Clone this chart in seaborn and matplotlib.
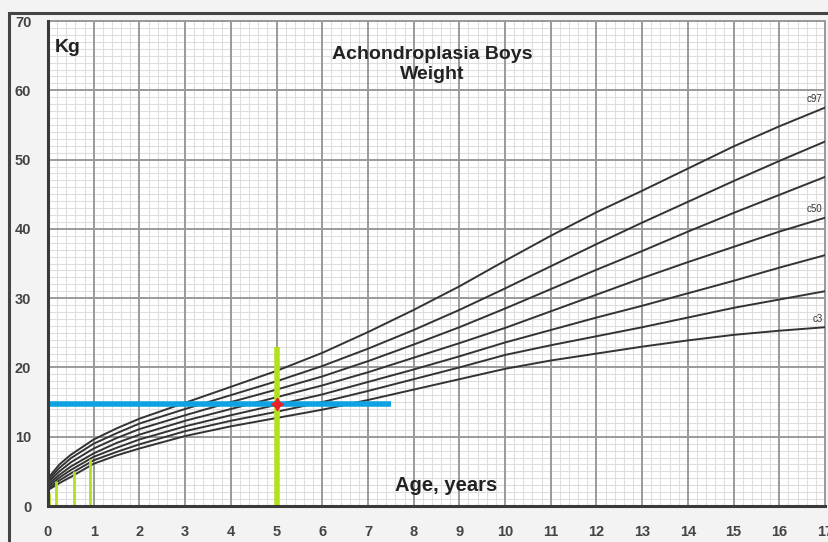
import pandas as pd
import numpy as np
from matplotlib import pyplot as plt
from matplotlib.patches import Rectangle
import seaborn as sns

# Datos de las curvas (edad en años, peso en kg)
edades = [0, 0.25, 0.5, 1, 1.5, 2, 3, 4, 5, 6, 7, 8, 9, 10, 11, 12, 13, 14, 15, 16, 17]
c97 = [4.0, 6.0, 7.4, 9.6, 11.2, 12.6, 14.9, 17.2, 19.5, 22.1, 25.1, 28.3, 31.7, 35.4, 39.0, 42.4, 45.5, 48.7, 51.9, 54.8, 57.5]
c90 = [3.7, 5.5, 6.9, 9.0, 10.5, 11.9, 14.0, 16.0, 18.0, 20.2, 22.7, 25.4, 28.3, 31.4, 34.6, 37.8, 40.9, 43.9, 46.9, 49.8, 52.6]
c75 = [3.4, 5.0, 6.3, 8.3, 9.8, 11.1, 13.1, 15.0, 16.8, 18.7, 20.9, 23.3, 25.8, 28.5, 31.3, 34.1, 36.8, 39.6, 42.3, 44.9, 47.5]
c50 = [3.1, 4.5, 5.7, 7.6, 9.1, 10.3, 12.3, 14.0, 15.7, 17.4, 19.3, 21.4, 23.5, 25.7, 28.1, 30.5, 32.9, 35.2, 37.4, 39.6, 41.6]
c25 = [2.8, 4.1, 5.2, 7.1, 8.4, 9.6, 11.5, 13.1, 14.6, 16.1, 17.9, 19.7, 21.6, 23.6, 25.4, 27.2, 28.9, 30.7, 32.5, 34.4, 36.2]
c10 = [2.5, 3.7, 4.7, 6.6, 7.8, 8.9, 10.8, 12.3, 13.6, 15.0, 16.6, 18.3, 20.0, 21.8, 23.2, 24.5, 25.8, 27.2, 28.6, 29.8, 31.0]
c3 = [2.3, 3.3, 4.2, 6.1, 7.3, 8.3, 10.1, 11.5, 12.7, 13.9, 15.3, 16.8, 18.3, 19.8, 21.0, 22.0, 23.0, 23.9, 24.7, 25.3, 25.8]

percentiles = {"c97": c97, "c90": c90, "c75": c75, "c50": c50, "c25": c25, "c10": c10, "c3": c3}
etiquetas = ["c97", "c50", "c3"]

# Marcas del paciente
verdes_x = [0.03, 0.17, 0.56, 0.92]
verdes_y = [1.9, 3.6, 5.1, 6.8]
edad_paciente = 5
altura_verde = 23
peso_paciente = 14.7
fin_azul = 7.5

df = pd.DataFrame([
    {"edad": e, "peso": p, "curva": nombre}
    for nombre, valores in percentiles.items()
    for e, p in zip(edades, valores)
])

sns.set_style("white")
plt.rcParams['font.family'] = ['Liberation Sans', 'DejaVu Sans']

fig = plt.figure(figsize=(8.29, 5.42), dpi=100, facecolor='#f3f3f3')
ax = fig.add_axes([48 / 829, 1 - 506 / 542, 777 / 829, 485 / 542])
ax.set_facecolor('white')

# Marco exterior
fig.patches.append(Rectangle((9 / 829, -0.05), 1.0, 1 - 13 / 542 + 0.05, transform=fig.transFigure,
                             fill=False, edgecolor='#444444', linewidth=2.2, zorder=0))

marcas_x = list(range(0, 18))
marcas_y = list(range(0, 71, 10))
ax.set_xlim(0, 17)
ax.set_ylim(0, 70)
ax.set_xticks(marcas_x)
ax.set_yticks(marcas_y)
# rejilla fina sin repetir las líneas principales
menores_x = [i / 5 for i in range(0, 86) if i % 5 != 0]
menores_y = [i for i in range(0, 71) if i % 10 != 0]
ax.set_xticks(menores_x, minor=True)
ax.set_yticks(menores_y, minor=True)
ax.grid(which='minor', color='#dedede', linewidth=0.8)
ax.grid(which='major', visible=False)
ax.set_axisbelow(True)

# líneas principales encima de la rejilla fina
ax.vlines(marcas_x, 0, 70, color='#9a9a9a', linewidth=1.4, zorder=1)
ax.hlines(marcas_y, 0, 17, color='#9a9a9a', linewidth=1.4, zorder=1)

sns.lineplot(data=df, x="edad", y="peso", hue="curva", palette=['#333333'] * 7,
             legend=False, linewidth=1.4, ax=ax, zorder=3)

# Líneas del paciente
ax.vlines(verdes_x, 0, verdes_y, color='#b3e21c', linewidth=2, zorder=4)
ax.vlines(edad_paciente, 0, altura_verde, color='#b3e21c', linewidth=4, zorder=4)
ax.hlines(peso_paciente, 0, fin_azul, color='#0ea2e3', linewidth=4, zorder=5)
ax.plot(edad_paciente, peso_paciente, marker=(4, 1, 0), color='#e8202a', markersize=9, zorder=6)

# Etiquetas de percentiles
for nombre in etiquetas:
    ax.text(16.95, percentiles[nombre][-1] + 1.2, nombre, ha='right', va='center',
            fontsize=7, color='#333333', zorder=6)

ax.text(0.15, 66.2, "Kg", fontsize=14, fontweight='bold', color='#222222', va='center')
ax.text(8.4, 63.7, "Achondroplasia Boys\nWeight", fontsize=14, fontweight='bold',
        color='#222222', ha='center', va='center', linespacing=1.2)
ax.text(8.7, 3.0, "Age, years", fontsize=14.5, fontweight='bold', color='#222222',
        ha='center', va='center')

ax.set_xlabel("")
ax.set_ylabel("")
ax.tick_params(axis='both', which='major', labelsize=10.5, labelcolor='#444444',
               length=4, width=1, color='#777777', direction='out', pad=8)
ax.tick_params(which='minor', length=0)
ax.tick_params(axis='x', pad=10)
for etiqueta in ax.get_xticklabels() + ax.get_yticklabels():
    etiqueta.set_fontweight('bold')

for lado in ['left', 'bottom']:
    ax.spines[lado].set_color('#3a3a3a')
    ax.spines[lado].set_linewidth(2.2)
    ax.spines[lado].set_zorder(7)
for lado in ['top', 'right']:
    ax.spines[lado].set_color('#9a9a9a')
    ax.spines[lado].set_linewidth(1.4)

fig.savefig("out.png", dpi=100, facecolor=fig.get_facecolor())
